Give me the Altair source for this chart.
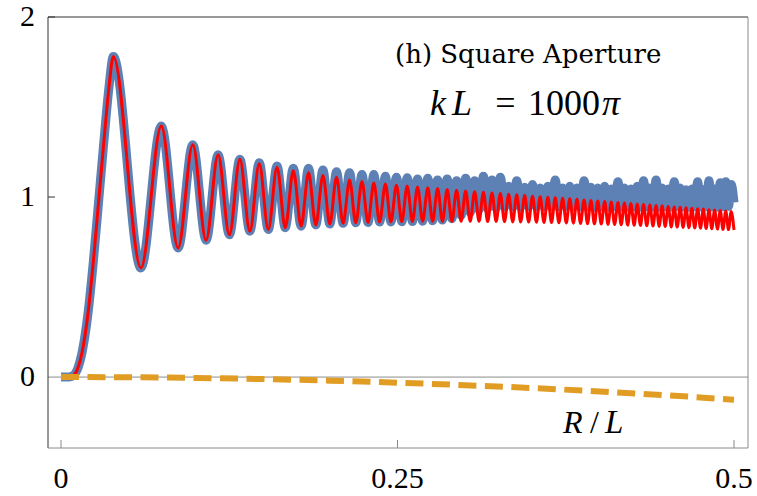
import altair as alt
import pandas as pd

# Start of the intensity curves: flat, then the steep first rise
rise_x = [0.0, 0.004, 0.008, 0.012, 0.016, 0.020, 0.024, 0.028, 0.032, 0.0355]
rise_y = [0.0, 0.0, 0.004, 0.04, 0.15, 0.35, 0.64, 0.98, 1.32, 1.60]

# R/L of successive maxima / minima of the oscillation
turn_x = [
    0.0389, 0.0594, 0.0745, 0.0870, 0.0979, 0.1078, 0.1167, 0.1251, 0.1329, 0.1403,
    0.1473, 0.1540, 0.1605, 0.1666, 0.1726, 0.1784, 0.1839, 0.1893, 0.1946, 0.1997,
    0.2047, 0.2096, 0.2144, 0.2190, 0.2236, 0.2281, 0.2324, 0.2367, 0.2410, 0.2451,
    0.2492, 0.2532, 0.2572, 0.2611, 0.2649, 0.2687, 0.2725, 0.2761, 0.2798, 0.2834,
    0.2869, 0.2904, 0.2939, 0.2973, 0.3006, 0.3040, 0.3073, 0.3106, 0.3138, 0.3170,
    0.3202, 0.3233, 0.3264, 0.3295, 0.3326, 0.3356, 0.3386, 0.3415, 0.3445, 0.3474,
    0.3503, 0.3532, 0.3560, 0.3588, 0.3617, 0.3644, 0.3672, 0.3699, 0.3727, 0.3754,
    0.3780, 0.3807, 0.3833, 0.3860, 0.3886, 0.3912, 0.3937, 0.3963, 0.3988, 0.4014,
    0.4039, 0.4064, 0.4088, 0.4113, 0.4138, 0.4162, 0.4186, 0.4210, 0.4234, 0.4258,
    0.4281, 0.4305, 0.4328, 0.4352, 0.4375, 0.4398, 0.4421, 0.4444, 0.4466, 0.4489,
    0.4511, 0.4534, 0.4556, 0.4578, 0.4600, 0.4622, 0.4644, 0.4665, 0.4687, 0.4708,
    0.4730, 0.4751, 0.4772, 0.4793, 0.4814, 0.4835, 0.4856, 0.4877, 0.4898, 0.4918,
    0.4939, 0.4959, 0.4979, 0.5000,
]

# Approximate (red) curve at those turning points
red_turn = [
    1.780, 0.606, 1.394, 0.717, 1.290, 0.760, 1.235, 0.790, 1.210, 0.810,
    1.185, 0.820, 1.165, 0.830, 1.146, 0.838, 1.135, 0.845, 1.120, 0.850,
    1.110, 0.854, 1.094, 0.857, 1.086, 0.859, 1.078, 0.861, 1.072, 0.862,
    1.066, 0.863, 1.061, 0.864, 1.056, 0.865, 1.051, 0.865, 1.047, 0.865,
    1.042, 0.865, 1.038, 0.865, 1.034, 0.865, 1.030, 0.865, 1.026, 0.864,
    1.022, 0.864, 1.019, 0.863, 1.015, 0.862, 1.012, 0.861, 1.009, 0.861,
    1.005, 0.860, 1.002, 0.859, 0.999, 0.858, 0.996, 0.857, 0.993, 0.856,
    0.990, 0.855, 0.987, 0.853, 0.984, 0.852, 0.981, 0.851, 0.978, 0.850,
    0.975, 0.848, 0.972, 0.847, 0.969, 0.846, 0.967, 0.844, 0.964, 0.843,
    0.961, 0.842, 0.959, 0.840, 0.956, 0.839, 0.953, 0.837, 0.951, 0.836,
    0.948, 0.834, 0.945, 0.833, 0.943, 0.831, 0.940, 0.830, 0.938, 0.828,
    0.935, 0.827, 0.933, 0.825, 0.930, 0.824, 0.928, 0.822, 0.925, 0.820,
    0.923, 0.819, 0.920, 0.817,
]

# Exact (blue) curve at the same turning points
blue_turn = [
    1.780, 0.606, 1.394, 0.717, 1.290, 0.760, 1.235, 0.790, 1.210, 0.810,
    1.190, 0.820, 1.172, 0.830, 1.160, 0.838, 1.160, 0.845, 1.150, 0.850,
    1.140, 0.854, 1.135, 0.857, 1.125, 0.859, 1.125, 0.861, 1.115, 0.862,
    1.110, 0.863, 1.107, 0.864, 1.100, 0.866, 1.105, 0.868, 1.095, 0.872,
    1.100, 0.880, 1.090, 0.898, 1.105, 0.915, 1.090, 0.930, 1.115, 0.936,
    1.095, 0.940, 1.110, 0.944, 1.060, 0.945, 1.090, 0.942, 1.055, 0.946,
    1.070, 0.944, 1.050, 0.946, 1.060, 0.943, 1.095, 0.945, 1.050, 0.947,
    1.060, 0.944, 1.050, 0.946, 1.090, 0.945, 1.055, 0.943, 1.050, 0.946,
    1.060, 0.944, 1.045, 0.947, 1.085, 0.945, 1.050, 0.943, 1.045, 0.946,
    1.060, 0.944, 1.090, 0.946, 1.050, 0.945, 1.095, 0.943, 1.050, 0.946,
    1.045, 0.944, 1.085, 0.947, 1.050, 0.945, 1.040, 0.943, 1.045, 0.946,
    1.085, 0.944, 1.040, 0.946, 1.090, 0.945, 1.045, 0.943, 1.080, 0.946,
    1.085, 0.948, 1.070, 0.970,
]

# Correction term (orange, dashed)
orange_x = [0.0, 0.05, 0.10, 0.15, 0.20, 0.25, 0.30, 0.35, 0.40, 0.45, 0.50]
orange_y = [0.0, -0.001, -0.005, -0.011, -0.020, -0.031, -0.045, -0.061, -0.080, -0.101, -0.126]

x_ticks = [0, 0.25, 0.5]
x_tick_text = ["0", "0.25", "0.5"]
y_ticks = [0, 1, 2]
y_tick_text = ["0", "1", "2"]

W, H = 700, 431
SERIF = "Liberation Serif, Times New Roman, serif"
SLAB = "DejaVu Serif, serif"

x_scale = alt.Scale(domain=[-0.00966, 0.5104], nice=False, zero=False)
y_scale = alt.Scale(domain=[-0.394, 2.0], nice=False, zero=False)

red_df = pd.DataFrame({"r": rise_x + turn_x, "v": rise_y + red_turn})
blue_df = pd.DataFrame({"r": rise_x + turn_x, "v": rise_y + blue_turn})
orange_df = pd.DataFrame({"r": orange_x, "v": orange_y})
one = pd.DataFrame({"a": [0]})


def X(field):
    return alt.X(field, scale=x_scale, axis=None)


def Y(field):
    return alt.Y(field, scale=y_scale, axis=None)


zero_line = alt.Chart(pd.DataFrame({"v": [0]})).mark_rule(
    color="#8c8c8c", strokeWidth=1
).encode(y=Y("v:Q"))

blue = alt.Chart(blue_df).mark_line(
    color="#5E81B5", strokeWidth=9, interpolate="monotone"
).encode(x=X("r:Q"), y=Y("v:Q"), order="r:Q")

red = alt.Chart(red_df).mark_line(
    color="#FF0000", strokeWidth=3, interpolate="monotone"
).encode(x=X("r:Q"), y=Y("v:Q"), order="r:Q")

orange = alt.Chart(orange_df).mark_line(
    color="#E19C24", strokeWidth=6, strokeDash=[18, 8.5], interpolate="monotone"
).encode(x=X("r:Q"), y=Y("v:Q"))

# Inward frame ticks
x_tick_marks = alt.Chart(pd.DataFrame({"t": x_ticks})).mark_rule(
    color="#8a8a8a", strokeWidth=1
).encode(x=X("t:Q"), y=alt.value(H), y2=alt.value(H - 8))
y_tick_marks = alt.Chart(pd.DataFrame({"t": [1, 2]})).mark_rule(
    color="#333333", strokeWidth=1
).encode(y=Y("t:Q"), x=alt.value(0), x2=alt.value(7))

# Tick labels
x_labels = alt.Chart(pd.DataFrame({"t": x_ticks, "s": x_tick_text})).mark_text(
    align="center", baseline="alphabetic", font=SERIF, fontSize=30, color="black"
).encode(x=X("t:Q"), y=alt.value(H + 40), text="s:N")
y_labels = alt.Chart(pd.DataFrame({"t": y_ticks, "s": y_tick_text})).mark_text(
    align="right", baseline="middle", font=SERIF, fontSize=30, color="black"
).encode(y=Y("t:Q"), x=alt.value(-13), text="s:N")


# Frame
def edge(x1, y1, x2, y2, color):
    return alt.Chart(one).mark_rule(color=color, strokeWidth=1).encode(
        x=alt.value(x1), y=alt.value(y1), x2=alt.value(x2), y2=alt.value(y2))


frame = [
    edge(0, 0, W, 0, "#333333"),
    edge(0, 0, 0, H, "#333333"),
    edge(0, H, W, H, "#8a8a8a"),
    edge(W, 0, W, H, "#8a8a8a"),
]


def label(s, x, y, size, font=SERIF, style="normal", align="left"):
    return alt.Chart(pd.DataFrame({"s": [s]})).mark_text(
        align=align, baseline="alphabetic", font=font, fontSize=size,
        fontStyle=style, color="black"
    ).encode(text="s:N", x=alt.value(x), y=alt.value(y))


texts = [
    label("(h) Square Aperture", 347, 46, 26, font=SLAB),
    label("k", 382, 98, 36, style="italic"),
    label("L", 404, 98, 36, style="italic"),
    label("=", 457.5, 98, 36, align="center"),
    label("1000", 480, 98, 36),
    label("π", 554, 98, 36, style="italic"),
    label("R", 515, 416, 32, style="italic"),
    label("/", 542, 416, 32),
    label("L", 557, 416, 33, style="italic"),
]

chart = alt.layer(
    zero_line, blue, red, orange, x_tick_marks, y_tick_marks,
    x_labels, y_labels, *frame, *texts
).properties(
    width=W, height=H,
    autosize=alt.AutoSizeParams(type="none"),
    padding={"left": 48, "top": 17, "right": 9, "bottom": 48},
    background="white",
).configure_view(stroke=None)

chart.save("out.html", embed_options={"renderer": "svg", "actions": False})
